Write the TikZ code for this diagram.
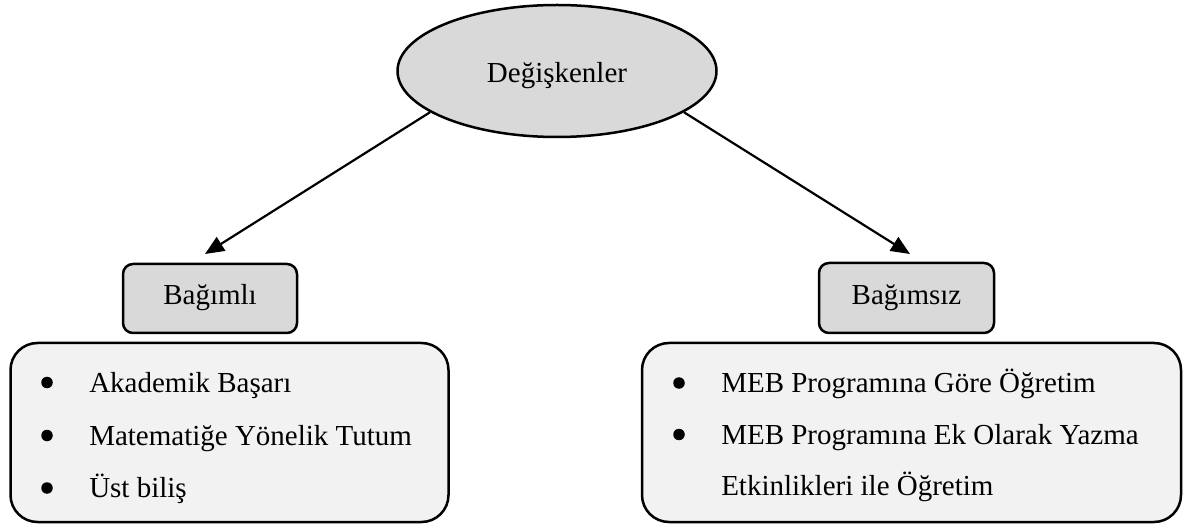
\documentclass[tikz,border=0pt]{standalone}
\usepackage{fontspec}
\setmainfont{Liberation Serif}
\usetikzlibrary{arrows.meta,shapes.geometric}
\definecolor{ellgray}{HTML}{D9D9D9}
\definecolor{listgray}{HTML}{F2F2F2}
\begin{document}
\begin{tikzpicture}[x=1pt,y=-1pt,line width=2.5pt,
  txt/.style={font=\fontsize{29pt}{35pt}\selectfont, inner sep=0pt},
  oval/.style={ellipse, draw=black, fill=ellgray, minimum width=319pt, minimum height=132pt, inner sep=0pt, txt, text height=24pt, text depth=0pt},
  headbox/.style={draw=black, fill=ellgray, rounded corners=10pt, minimum width=174pt, minimum height=69pt, txt, text height=13pt, text depth=0pt},
  listbox/.style={draw=black, fill=listgray, rounded corners=27pt, minimum height=179pt, inner sep=0pt},
  itemtext/.style={txt, anchor=base west},
  dot/.style={circle, fill=black, draw=none, inner sep=0pt, minimum size=11.5pt},
  link/.style={-{Triangle[length=19pt,width=16pt]}, line width=2.2pt}
]
\useasboundingbox (0,0) rectangle (1183,526);

\node[oval] (var) at (557,71) {Değişkenler};

\node[headbox] (dep) at (210,298.5) {Bağımlı};
\node[headbox, minimum width=175pt, minimum height=70pt] (indep) at (906.5,298) {Bağımsız};

\node[listbox, minimum width=438pt] (deplist) at (229.5,432.5) {};
\node[listbox, minimum width=539pt] (indeplist) at (911.5,432.5) {};

\coordinate (tipL) at (205,254);
\coordinate (tipR) at (910,254);
\draw[link] (var.198.5) -- (tipL);
\draw[link] (var.342) -- (tipR);

\node[dot] (b1) at (47,382.5) {};
\node[itemtext] (t1) at (88,392) {Akademik Başarı};
\node[dot] (b2) at (47,435.5) {};
\node[itemtext] (t2) at (88,445) {Matematiğe Yönelik Tutum};
\node[dot] (b3) at (47,488) {};
\node[itemtext] (t3) at (88,497) {Üst biliş};

\node[dot] (r1) at (679,383) {};
\node[itemtext] (s1) at (720,392) {MEB Programına Göre Öğretim};
\node[dot] (r2) at (679,434.5) {};
\node[itemtext] (s2) at (720,444) {MEB Programına Ek Olarak Yazma};
\node[itemtext] (s3) at (720,495) {Etkinlikleri ile Öğretim};
\end{tikzpicture}
\end{document}
